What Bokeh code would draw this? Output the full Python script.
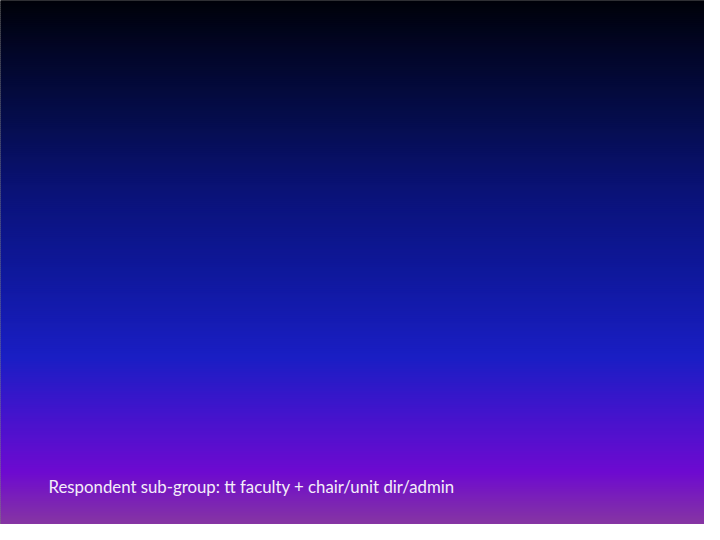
import numpy as np
from bokeh.plotting import figure
from bokeh.models import Range1d
from bokeh.core.properties import value
from bokeh.embed import file_html
from bokeh.resources import INLINE

# Slide content
caption = ["Respondent sub-group: tt faculty + chair/unit dir/admin"]
caption_x = [56]
caption_y = [494]

# Background gradient colour stops (page y, hex colour)
stop_y = [0, 60, 130, 200, 280, 365, 420, 480, 510, 540]
stop_col = ["#000004", "#020628", "#050d4e", "#0a1278", "#0f189c", "#1a1ec4",
            "#4214cc", "#6e0ad0", "#7c24b4", "#8a3c9c"]

W, H = 704, 524
p = figure(width=W, height=H, output_backend="svg", toolbar_location=None,
           x_range=Range1d(8, 712), y_range=Range1d(532, 8),
           min_border=0, outline_line_color=None)
p.axis.visible = False
p.grid.visible = False
p.background_fill_color = "#000000"
p.border_fill_color = "#000000"

def hex2rgb(h):
    return np.array([int(h[i:i + 2], 16) for i in (1, 3, 5)], dtype=float)

rgb = np.array([hex2rgb(c) for c in stop_col])
edges = np.arange(0, 541, 2)
mids = (edges[:-1] + edges[1:]) / 2
cols = []
for m in mids:
    r = np.interp(m, stop_y, rgb[:, 0])
    g = np.interp(m, stop_y, rgb[:, 1])
    b = np.interp(m, stop_y, rgb[:, 2])
    cols.append("#%02x%02x%02x" % (int(round(r)), int(round(g)), int(round(b))))

p.quad(left=0, right=720, top=edges[:-1], bottom=edges[1:] + 0.5,
       fill_color=cols, line_color=None)

p.text(x=caption_x, y=caption_y, text=caption, text_font=value("Lato"),
       text_font_size="16.8px", text_color="#f4eefa", text_baseline="middle",
       text_align="left")

open("out.html", "w").write(file_html(p, INLINE))
